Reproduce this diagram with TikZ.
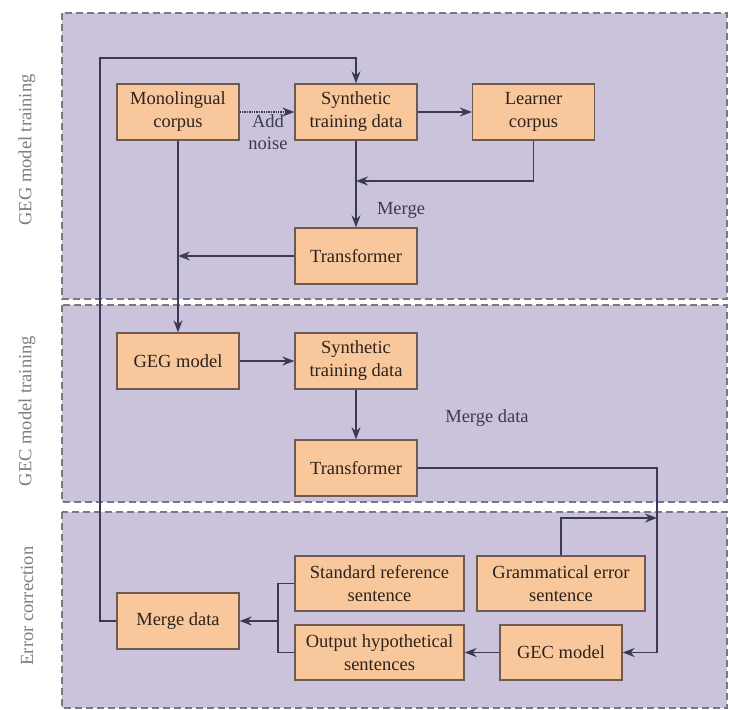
\documentclass[tikz,border=0pt]{standalone}
\usepackage{fontspec}
\setmainfont{Liberation Serif}
\usetikzlibrary{arrows.meta}

\definecolor{panelfill}{HTML}{CBC3DC}
\definecolor{panelline}{HTML}{787880}
\definecolor{boxfill}{HTML}{F8C89C}
\definecolor{boxline}{HTML}{6E5A4E}
\definecolor{wire}{HTML}{3A3A56}
\definecolor{boxtext}{HTML}{2E221C}
\definecolor{sidetext}{HTML}{7E7E7E}

\begin{document}
\begin{tikzpicture}[x=1pt,y=-1pt,
  panel/.style={draw=panelline,fill=panelfill,line width=1.8pt,dash pattern=on 7pt off 4pt},
  box/.style={draw=boxline,fill=boxfill,line width=1.3pt,text=boxtext,align=center,
    inner sep=0pt,minimum width=122pt,minimum height=56pt,font=\fontsize{18.5}{23}\selectfont},
  widebox/.style={box,minimum width=169pt,minimum height=55pt},
  flow/.style={draw=wire,line width=1.4pt,-{Stealth[length=12pt,width=9pt]}},
  link/.style={draw=wire,line width=1.4pt},
  note/.style={text=wire,align=center,font=\fontsize{18.5}{22}\selectfont},
  side/.style={text=sidetext,rotate=90,font=\fontsize{18.5}{22}\selectfont}]

\useasboundingbox (0,0) rectangle (729,710);
\fill[white] (0,0) rectangle (729,710);

% the three stages
\draw[panel] (62,13) rectangle (727,299);
\draw[panel] (62,305) rectangle (727,502);
\draw[panel] (62,512) rectangle (727,708);

\node[side] (lab1) at (27,150) {GEG model training};
\node[side] (lab2) at (27,411) {GEC model training};
\node[side] (lab3) at (27,606) {Error correction};

% stage 1: training the error generator
\node[box] (mono) at (178,112) {Monolingual\\corpus};
\node[box] (syn1) at (356,112) {Synthetic\\training data};
\node[box] (learner) at (533.5,112) {Learner\\corpus};
\node[box] (tr1) at (356,256) {Transformer};

% stage 2: training the corrector
\node[box] (geg) at (178,361) {GEG model};
\node[box] (syn2) at (356,361) {Synthetic\\training data};
\node[box] (tr2) at (356,468) {Transformer};

% stage 3: correcting errors
\node[widebox] (stdref) at (379.5,583.5) {Standard reference\\sentence};
\node[widebox] (outhyp) at (379.5,652.5) {Output hypothetical\\sentences};
\node[widebox,minimum width=168pt] (gram) at (561,583.5) {Grammatical error\\sentence};
\node[box,minimum height=55pt] (gec) at (561,652.5) {GEC model};
\node[box] (merge) at (178,621) {Merge data};

% labels on the flow
\node[note] (addnoise) at (268,132) {Add\\noise};
\node[note] (mergelab) at (401,210) {Merge};
\node[note] (mergedata) at (487,418) {Merge data};

% helper points
\coordinate (loopTop) at (100,58);
\coordinate (mergeIn) at (356,181);
\coordinate (railTop) at (657,468);
\coordinate (railBot) at (657,652.5);
\coordinate (gramIn) at (657,518);
\coordinate (bus) at (278,621);

% connectors
\draw[flow] (merge.west) -| (loopTop) -| (syn1.north);
\draw[flow,densely dotted] (mono.east) -- (syn1.west);
\draw[flow] (syn1.east) -- (learner.west);
\draw[flow] (learner.south) |- (mergeIn);
\draw[flow] (syn1.south) -- (tr1.north);
\draw[flow] (tr1.west) -- (mono.south |- tr1.west);
\draw[flow] (mono.south) -- (geg.north);
\draw[flow] (geg.east) -- (syn2.west);
\draw[flow] (syn2.south) -- (tr2.north);
\draw[flow] (tr2.east) -- (railTop) -- (railBot) -- (gec.east);
\draw[flow] (gram.north) |- (gramIn);
\draw[flow] (gec.west) -- (outhyp.east);
\draw[link] (stdref.west) -| (bus);
\draw[link] (outhyp.west) -| (bus);
\draw[flow] (bus) -- (merge.east);
\end{tikzpicture}
\end{document}
